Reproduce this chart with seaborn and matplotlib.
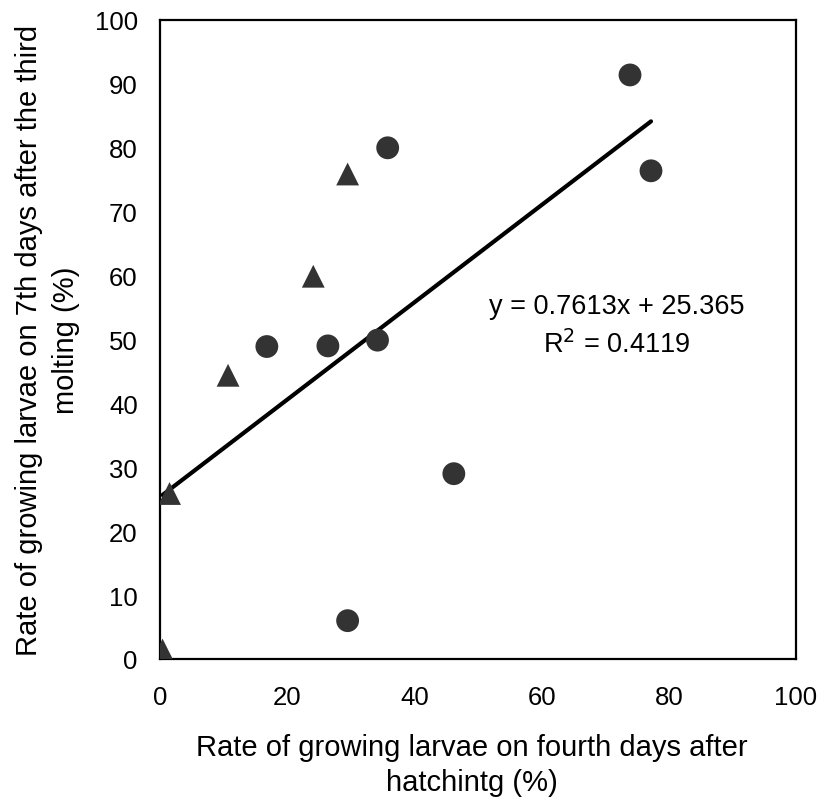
import numpy as np
import pandas as pd
import matplotlib
matplotlib.use("Agg")
import matplotlib.pyplot as plt
import seaborn as sns

# Data
circle_x = [73.9, 77.2, 35.8, 16.8, 26.4, 34.2, 46.2, 29.5]
circle_y = [91.4, 76.4, 80.0, 48.9, 49.0, 49.9, 29.0, 6.0]
triangle_x = [29.5, 24.1, 10.7, 1.5, 0.4]
triangle_y = [75.9, 59.9, 44.4, 25.9, 1.4]
groups = ["circle", "triangle"]

slope = 0.7613
intercept = 25.365
r_squared = 0.4119

x_ticks = [0, 20, 40, 60, 80, 100]
y_ticks = [0, 10, 20, 30, 40, 50, 60, 70, 80, 90, 100]

df = pd.DataFrame({
    "x": circle_x + triangle_x,
    "y": circle_y + triangle_y,
    "group": [groups[0]] * len(circle_x) + [groups[1]] * len(triangle_x),
})

sns.set_theme(style="white")
plt.rcParams["font.family"] = ["Liberation Sans", "DejaVu Sans"]

fig = plt.figure(figsize=(8.25, 8.03), dpi=100)
ax = fig.add_axes([160 / 825, 1 - 660 / 803, (796 - 160) / 825, (660 - 21) / 803])

all_x = np.array(df["x"])
line_x = np.array([all_x.min(), all_x.max()])
line_df = pd.DataFrame({"x": line_x, "y": slope * line_x + intercept})
sns.lineplot(data=line_df, x="x", y="y", ax=ax, color="black", linewidth=3.0,
             solid_capstyle="round", zorder=2)

sns.scatterplot(data=df, x="x", y="y", style="group",
                markers={"circle": "o", "triangle": "^"},
                color="#333333", s=270, edgecolor="none", linewidth=0,
                legend=False, ax=ax, zorder=3)

ax.set_xlim(0, 100)
ax.set_ylim(0, 100)
ax.set_xticks(x_ticks)
ax.set_yticks(y_ticks)
ax.tick_params(axis="both", direction="in", length=7, width=1.0, color="black",
               labelsize=18.5, labelcolor="black")
ax.tick_params(axis="y", pad=16)
ax.tick_params(axis="x", pad=18.5)
for sp in ax.spines.values():
    sp.set_visible(True)
    sp.set_color("black")
    sp.set_linewidth(1.6)

ax.set_xlabel("Rate of growing larvae on fourth days after\nhatchintg (%)",
              fontsize=21, color="black", linespacing=1.31)
ax.xaxis.set_label_coords(0.49, -0.1158)
ax.set_ylabel("Rate of growing larvae on 7th days after the third\nmolting (%)",
              fontsize=21, color="black", linespacing=1.42)
ax.yaxis.set_label_coords(-0.1258, 0.5)

ax.text(0.7186, 0.5524, f"y = {slope}x + {intercept}", transform=ax.transAxes,
        ha="center", va="center", fontsize=19.5, color="black")
ax.text(0.7186, 0.493, f"R$^2$ = {r_squared}", transform=ax.transAxes,
        ha="center", va="center", fontsize=19.5, color="black")

fig.savefig("out.png", dpi=100)
